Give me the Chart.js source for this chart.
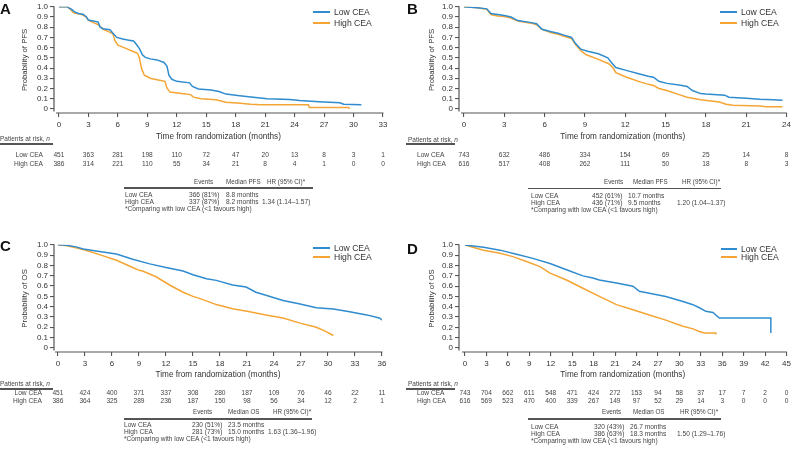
<!DOCTYPE html>
<html><head><meta charset="utf-8">
<script src="https://cdn.jsdelivr.net/npm/chart.js@4.4.0/dist/chart.umd.min.js"></script>
<style>
html,body{margin:0;padding:0;background:#fff;}
#root{position:relative;width:794px;height:457px;overflow:hidden;font-family:"Liberation Sans",Arial,sans-serif;color:#444;}
canvas{position:absolute;}
.t{position:absolute;white-space:nowrap;line-height:1;}
.r{position:absolute;background:#555;}
</style></head>
<body><div id="root"></div>
<script>
// ---------------- DATA ----------------
const yTicks = [0,0.1,0.2,0.3,0.4,0.5,0.6,0.7,0.8,0.9,1.0];
const xTicksA = [0,3,6,9,12,15,18,21,24,27,30,33];
const xTicksB = [0,3,6,9,12,15,18,21,24];
const xTicksC = [0,3,6,9,12,15,18,21,24,27,30,33,36];
const xTicksD = [0,3,6,9,12,15,18,21,24,27,30,33,36,39,42,45];

const aLowT  = [0,0.9,1.0,1.3,1.6,2.0,2.5,2.8,3.0,3.5,4.0,4.2,4.5,5.2,5.5,5.9,6.5,7.0,7.6,7.9,8.2,8.5,8.8,9.3,10.0,10.7,11.0,11.2,11.5,12.0,13.3,13.6,14.2,15.5,16.3,17.0,18.4,19.8,21.2,23.5,24.5,26.5,28.6,29.0,30.8];
const aLowS  = [1.0,1.0,0.99,0.975,0.95,0.935,0.925,0.90,0.87,0.86,0.85,0.80,0.785,0.775,0.74,0.70,0.685,0.675,0.665,0.63,0.59,0.53,0.505,0.49,0.48,0.455,0.42,0.33,0.29,0.27,0.255,0.22,0.195,0.185,0.17,0.145,0.13,0.115,0.10,0.093,0.082,0.07,0.06,0.045,0.04];
const aHighT = [0,0.9,1.1,1.5,2.3,2.8,3.0,3.5,4.0,4.5,5.0,5.5,5.7,6.0,6.5,7.0,7.5,8.0,8.2,8.4,8.7,9.3,10.0,10.8,11.0,11.3,12.5,13.4,13.7,14.5,16.0,17.0,18.5,19.5,20.5,25.4,25.5,29.5,29.6];
const aHighS = [1.0,1.0,0.98,0.94,0.925,0.90,0.87,0.845,0.825,0.78,0.76,0.735,0.67,0.625,0.605,0.585,0.565,0.545,0.50,0.40,0.33,0.30,0.285,0.27,0.205,0.165,0.15,0.14,0.115,0.10,0.09,0.065,0.055,0.045,0.04,0.04,0.015,0.015,0.0];

const bLowT  = [0,1.0,1.7,2.0,2.5,3.0,3.5,4.0,5.0,5.4,5.8,6.5,7.0,7.5,8.0,8.3,8.7,9.2,10.0,10.7,11.0,11.3,12.0,13.0,13.7,14.1,14.5,15.1,16.0,16.6,17.0,17.6,18.0,19.4,19.7,21.0,22.0,23.0,23.7];
const bLowS  = [1.0,0.99,0.98,0.935,0.925,0.915,0.90,0.865,0.845,0.835,0.78,0.755,0.74,0.72,0.70,0.64,0.585,0.565,0.54,0.50,0.45,0.405,0.38,0.345,0.32,0.31,0.27,0.25,0.235,0.22,0.18,0.15,0.145,0.135,0.115,0.105,0.095,0.09,0.085];
const bHighT = [0,1.0,1.7,2.0,2.5,3.0,3.5,4.0,5.0,5.4,5.8,6.5,7.0,7.5,8.0,8.3,8.7,9.1,10.1,10.8,11.1,11.3,12.1,13.1,13.6,14.1,14.5,15.1,16.0,16.6,17.6,19.0,19.5,20.0,22.0,22.5,23.7];
const bHighS = [1.0,0.99,0.975,0.925,0.91,0.905,0.89,0.86,0.84,0.825,0.78,0.745,0.73,0.71,0.69,0.63,0.57,0.53,0.48,0.44,0.40,0.355,0.31,0.265,0.245,0.23,0.20,0.18,0.14,0.115,0.09,0.067,0.045,0.035,0.028,0.022,0.02];

const cLowT  = [0,1,2,2.8,4.6,6.5,8.3,10.2,12.0,13.9,15.0,16.5,17.6,19.4,20.9,22.0,23.1,25.0,26.9,28.7,30.6,32.4,34.3,35.7,36.1];
const cLowS  = [1.0,0.995,0.98,0.96,0.935,0.91,0.86,0.815,0.78,0.745,0.71,0.67,0.655,0.61,0.59,0.54,0.51,0.46,0.425,0.39,0.377,0.35,0.32,0.29,0.265];
const cHighT = [0,1,2,2.8,4.6,6.5,8.3,9.1,9.4,10.9,12.4,13.9,15.0,15.7,17.6,19.4,21.3,23.1,25.0,26.9,28.7,29.5,30.6];
const cHighS = [1.0,0.99,0.97,0.955,0.905,0.85,0.78,0.75,0.745,0.69,0.61,0.54,0.50,0.48,0.42,0.38,0.35,0.32,0.29,0.24,0.20,0.17,0.12];

const dLowT  = [0,2.6,4.9,7.2,9.5,11.9,14.2,16.5,17.9,18.8,21.2,23.5,24.4,25.8,28.1,30.5,31.9,32.8,33.7,34.7,35.1,35.6,42.8,42.8];
const dLowS  = [1.0,0.977,0.95,0.91,0.87,0.82,0.76,0.70,0.68,0.66,0.63,0.60,0.55,0.53,0.50,0.45,0.42,0.39,0.355,0.345,0.32,0.29,0.29,0.145];
const dHighT = [0,2.6,4.9,6.7,8.6,10.5,11.9,14.2,16.5,18.8,21.2,23.5,25.8,28.1,30.5,31.9,32.8,33.5,35.1,35.1];
const dHighS = [1.0,0.95,0.92,0.887,0.84,0.79,0.726,0.66,0.58,0.50,0.42,0.37,0.32,0.27,0.21,0.185,0.16,0.145,0.145,0.13];

const riskALow  = [451,363,281,198,110,72,47,20,13,8,3,1];
const riskAHigh = [386,314,221,110,55,34,21,8,4,1,0,0];
const riskBLow  = [743,632,486,334,154,69,25,14,8];
const riskBHigh = [616,517,408,262,111,50,18,8,3];
const riskCLow  = [451,424,400,371,337,308,280,187,109,76,46,22,11];
const riskCHigh = [386,364,325,289,236,187,150,98,56,34,12,2,1];
const riskDLow  = [743,704,662,611,548,471,424,272,153,94,58,37,17,7,2,0];
const riskDHigh = [616,569,523,470,400,339,267,149,97,52,29,14,3,0,0,0];

const eventsA = ['366 (81%)','337 (87%)'], medianA = ['8.8 months','8.2 months'], hrA = '1.34 (1.14\u20131.57)';
const eventsB = ['452 (61%)','436 (71%)'], medianB = ['10.7 months','9.5 months'], hrB = '1.20 (1.04\u20131.37)';
const eventsC = ['230 (51%)','281 (73%)'], medianC = ['23.5 months','15.0 months'], hrC = '1.63 (1.36\u20131.96)';
const eventsD = ['320 (43%)','386 (63%)'], medianD = ['26.7 months','18.3 months'], hrD = '1.50 (1.29\u20131.76)';

// ---------------- STYLE / LAYOUT ----------------
const FAM = '"Liberation Sans", Arial, sans-serif';
const BLUE = '#2f8ccf', ORANGE = '#f4a533', AXIS = '#555', TXT = '#333';
const root = document.getElementById('root');

function txt(x, y, s, o = {}) {
  const d = document.createElement('div');
  d.className = 't';
  d.style.left = x + 'px'; d.style.top = y + 'px';
  d.style.fontSize = (o.size || 6.6) + 'px';
  if (o.bold) d.style.fontWeight = 'bold';
  if (o.color) d.style.color = o.color;
  const a = o.align || 'l';
  d.style.transform = a === 'c' ? 'translate(-50%,-50%)' : a === 'r' ? 'translate(-100%,-50%)' : 'translateY(-50%)';
  d.innerHTML = s;
  root.appendChild(d);
}
function rule(x1, x2, y, th, color) {
  const d = document.createElement('div');
  d.className = 'r';
  d.style.left = x1 + 'px'; d.style.width = (x2 - x1) + 'px';
  d.style.top = (y - th / 2) + 'px'; d.style.height = th + 'px';
  if (color) d.style.background = color;
  root.appendChild(d);
}

const axesPlugin = {
  id: 'detachedAxes',
  afterDraw(chart) {
    const {ctx, chartArea: a, scales: {x, y}} = chart;
    ctx.save();
    ctx.strokeStyle = AXIS; ctx.lineWidth = 1.2;
    ctx.beginPath();
    ctx.moveTo(a.left, y.getPixelForValue(1) - 0.5);
    ctx.lineTo(a.left, y.getPixelForValue(0) + 2.5);
    ctx.moveTo(x.getPixelForValue(0) - 3, a.bottom);
    ctx.lineTo(a.right + 0.5, a.bottom);
    ctx.stroke();
    ctx.restore();
  }
};

const panels = [
  {letter:'A', L:0, T:0, W:397, H:142, yw:54, pr:14, pt:5, xh:29, xMin:-0.5, xMax:33, ticks:xTicksA, ytitle:'Probability of PFS', ytp:20,
   low:[aLowT,aLowS], high:[aHighT,aHighS], riskL:riskALow, riskH:riskAHigh,
   letterPos:[0,8], legend:{x1:313,x2:330,tx:334,y1:12,y2:23},
   riskHead:{x:0,y:139,u1:0,u2:53,uy:144}, riskRows:{x:43,align:'r',y1:155,y2:164},
   sum:{rx1:124,rx2:313,ry:188,hy:182,h:[[194,'Events'],[226,'Median PFS'],[267,'HR (95% CI)*']],cols:[125,189,226,262],y1:194.5,y2:201.5,fy:208.5,
        ev:eventsA,md:medianA,hr:hrA}},
  {letter:'B', L:400, T:0, W:394, H:142, yw:59, pr:7, pt:5, xh:29, xMin:-0.37, xMax:24, ticks:xTicksB, ytitle:'Probability of PFS', ytp:27,
   low:[bLowT,bLowS], high:[bHighT,bHighS], riskL:riskBLow, riskH:riskBHigh,
   letterPos:[407,8], legend:{x1:720,x2:737,tx:741,y1:12,y2:23},
   riskHead:{x:408,y:140,u1:406,u2:455,uy:144}, riskRows:{x:417,align:'l',y1:155,y2:164},
   sum:{rx1:528,rx2:721,ry:188.5,hy:182,h:[[604,'Events'],[633,'Median PFS'],[682,'HR (95% CI)*']],cols:[531,592,628,677],y1:196,y2:203,fy:210,
        ev:eventsB,md:medianB,hr:hrB}},
  {letter:'C', L:0, T:238, W:397, H:142, yw:54, pr:15, pt:6, xh:28, xMin:-0.44, xMax:36, ticks:xTicksC, ytitle:'Probability of OS', ytp:20,
   low:[cLowT,cLowS], high:[cHighT,cHighS], riskL:riskCLow, riskH:riskCHigh,
   letterPos:[0,245], legend:{x1:313,x2:330,tx:334,y1:248,y2:257},
   riskHead:{x:0,y:384,u1:0,u2:53,uy:389}, riskRows:{x:42,align:'r',y1:393,y2:401},
   sum:{rx1:124,rx2:312,ry:419,hy:412,h:[[193,'Events'],[228,'Median OS'],[273,'HR (95% CI)*']],cols:[124,192,228,268],y1:424.5,y2:431.5,fy:439,
        ev:eventsC,md:medianC,hr:hrC}},
  {letter:'D', L:400, T:238, W:394, H:142, yw:59, pr:6, pt:7, xh:28, xMin:-0.84, xMax:45, ticks:xTicksD, ytitle:'Probability of OS', ytp:27,
   low:[dLowT,dLowS], high:[dHighT,dHighS], riskL:riskDLow, riskH:riskDHigh,
   letterPos:[407,248], legend:{x1:721,x2:737,tx:741,y1:249,y2:257},
   riskHead:{x:408,y:384,u1:406,u2:455,uy:389}, riskRows:{x:417,align:'l',y1:393,y2:401},
   sum:{rx1:528,rx2:721,ry:419,hy:412,h:[[602,'Events'],[633,'Median OS'],[680,'HR (95% CI)*']],cols:[531,594,630,677],y1:426.5,y2:433.5,fy:440.5,
        ev:eventsD,md:medianD,hr:hrD}}
];

const pts = (T, S) => T.map((t, i) => ({x: t, y: S[i]}));

panels.forEach(p => {
  const cv = document.createElement('canvas');
  cv.width = p.W; cv.height = p.H;
  cv.style.left = p.L + 'px'; cv.style.top = p.T + 'px';
  cv.style.width = p.W + 'px'; cv.style.height = p.H + 'px';
  root.appendChild(cv);
  const grid = {display: true, drawOnChartArea: false, drawTicks: true, tickLength: 4, color: AXIS, lineWidth: 1.1};
  const chart = new Chart(cv.getContext('2d'), {
    type: 'line',
    data: {datasets: [
      {label: 'Low CEA', data: pts(p.low[0], p.low[1]), borderColor: BLUE, borderWidth: 1.5, pointRadius: 0, tension: 0, fill: false},
      {label: 'High CEA', data: pts(p.high[0], p.high[1]), borderColor: ORANGE, borderWidth: 1.5, pointRadius: 0, tension: 0, fill: false}
    ]},
    options: {
      responsive: false, animation: false, devicePixelRatio: 1,
      layout: {padding: {left: 0, right: p.pr, top: p.pt, bottom: 0}},
      plugins: {legend: {display: false}, tooltip: {enabled: false}},
      scales: {
        x: {type: 'linear', min: p.xMin, max: p.xMax,
            afterBuildTicks: s => { s.ticks = p.ticks.map(v => ({value: v})); },
            afterFit: s => { s.height = p.xh; },
            grid, border: {display: false},
            ticks: {color: TXT, font: {size: 8, family: FAM}, padding: 3, maxRotation: 0, autoSkip: false},
            title: {display: true, text: 'Time from randomization (months)', color: TXT, font: {size: 8.2, family: FAM}, padding: 0}},
        y: {type: 'linear', min: -0.04, max: 1,
            afterBuildTicks: s => { s.ticks = yTicks.map(v => ({value: v})); },
            afterFit: s => { s.width = p.yw; },
            grid, border: {display: false},
            ticks: {color: TXT, font: {size: 8, family: FAM}, padding: 2, autoSkip: false,
                    callback: v => v === 0 ? '0' : v.toFixed(1)},
            title: {display: true, text: p.ytitle, color: TXT, font: {size: 7.8, family: FAM}, padding: {top: p.ytp, bottom: 0}}}
      }
    },
    plugins: [axesPlugin]
  });

  // panel letter
  txt(p.letterPos[0], p.letterPos[1], p.letter, {size: 15, bold: true, color: '#111'});
  // legend
  const lg = p.legend;
  rule(lg.x1, lg.x2, lg.y1, 2, BLUE); txt(lg.tx, lg.y1, 'Low CEA', {size: 8.6, color: TXT});
  rule(lg.x1, lg.x2, lg.y2, 2, ORANGE); txt(lg.tx, lg.y2, 'High CEA', {size: 8.6, color: TXT});
  // patients at risk
  const rh = p.riskHead;
  txt(rh.x, rh.y, 'Patients at risk, <i>n</i>', {size: 6.5});
  rule(rh.u1, rh.u2, rh.uy, 1.5);
  const rr = p.riskRows;
  txt(rr.x, rr.y1, 'Low CEA', {size: 6.6, align: rr.align});
  txt(rr.x, rr.y2, 'High CEA', {size: 6.6, align: rr.align});
  p.ticks.forEach((t, i) => {
    const px = p.L + chart.scales.x.getPixelForValue(t);
    txt(px, rr.y1, String(p.riskL[i]), {size: 6.6, align: 'c'});
    txt(px, rr.y2, String(p.riskH[i]), {size: 6.6, align: 'c'});
  });
  // summary table
  const s = p.sum;
  rule(s.rx1, s.rx2, s.ry, 1.5);
  s.h.forEach(h => txt(h[0], s.hy, h[1], {size: 6.3}));
  txt(s.cols[0], s.y1, 'Low CEA'); txt(s.cols[1], s.y1, s.ev[0]); txt(s.cols[2], s.y1, s.md[0]);
  txt(s.cols[0], s.y2, 'High CEA'); txt(s.cols[1], s.y2, s.ev[1]); txt(s.cols[2], s.y2, s.md[1]); txt(s.cols[3], s.y2, s.hr);
  txt(s.cols[0], s.fy, '*Comparing with low CEA (&lt;1 favours high)');
});
</script>
</body></html>
